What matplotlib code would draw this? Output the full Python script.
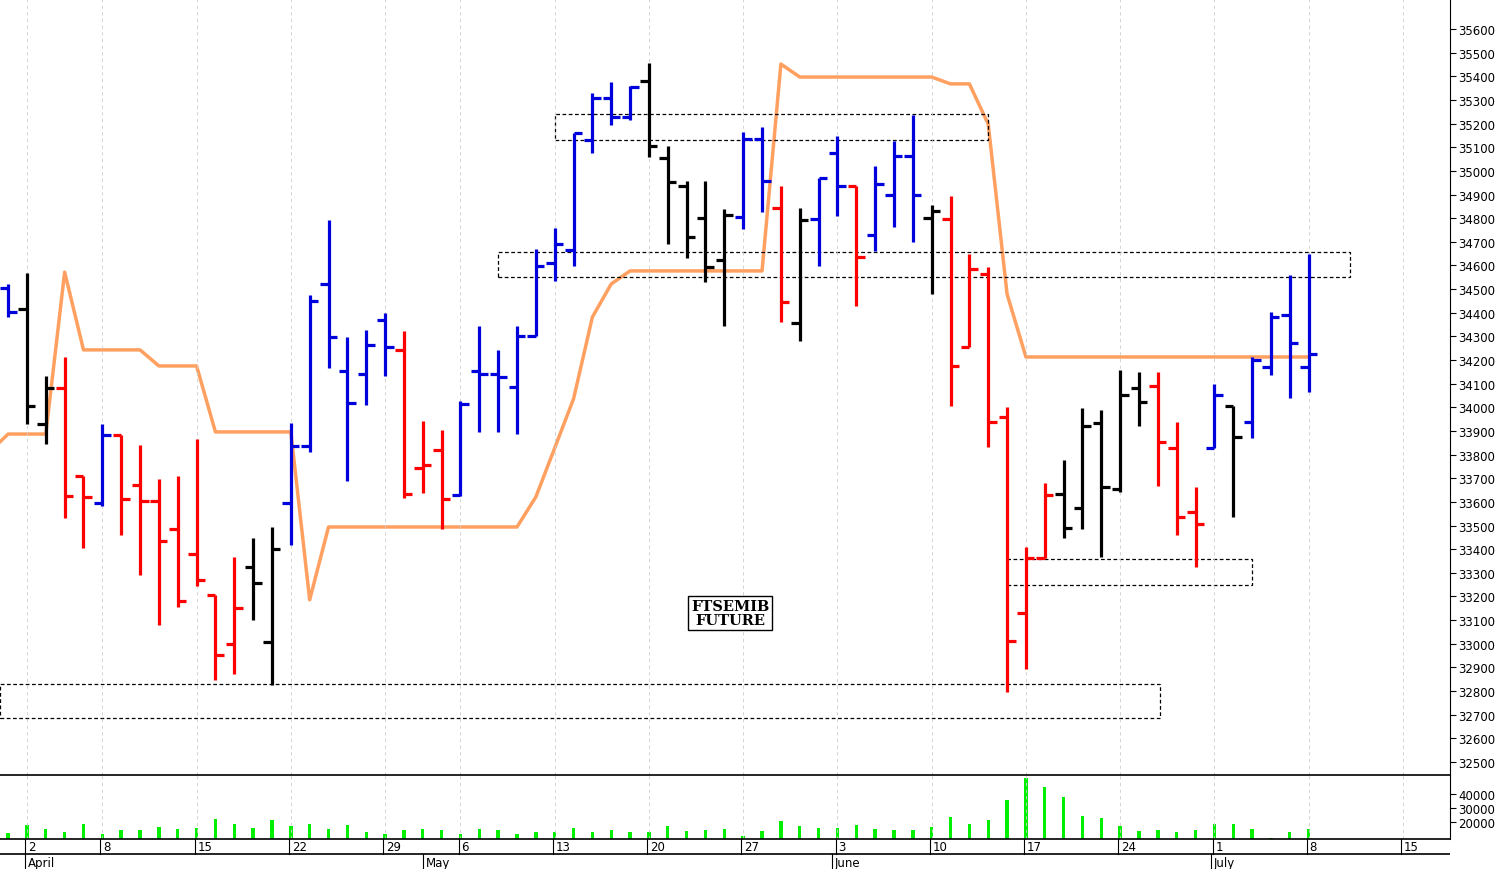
import matplotlib
matplotlib.use("Agg")
import matplotlib.pyplot as plt
from matplotlib.patches import Rectangle

opens = [34505,34416,33930,34082,33710,33596,33883,33672,33604,33486,33380,33207,33000,33325,33008,33596,33837,34522,34154,34141,
         34369,34243,33744,33820,33629,34154,34141,34086,34302,34611,34666,35131,35308,35228,35380,35055,34936,34801,34623,34805,
         35135,34843,34357,34797,35076,34936,34729,34898,35063,34801,34797,34255,34564,33959,33130,33363,33634,33574,33934,33655,
         34082,34090,33828,33557,33828,34006,33938,34171,34391,34171]
highs = [34522,34568,34133,34213,33710,33930,33883,33841,33697,33710,33866,33207,33367,33448,33494,33934,34475,34792,34298,34327,
         34399,34323,33942,33904,34027,34344,34243,34344,34670,34759,35160,35329,35376,35359,35456,35105,34957,34957,34839,35165,
         35186,34936,34843,34970,35148,34936,35021,35127,35236,34856,34894,34649,34594,34002,33410,33680,33777,33997,33989,34158,
         34150,34150,33938,33663,34099,34006,34213,34403,34560,34649]
lows = [34382,33930,33845,33532,33405,33583,33460,33291,33080,33156,33245,32847,32872,33101,32826,33418,33811,34166,33689,34010,
        34133,33617,33638,33486,33625,33896,33896,33887,34302,34534,34598,35076,35194,35215,35059,34691,34632,34530,34344,34754,
        34826,34361,34281,34598,34809,34429,34661,34763,34699,34479,34006,34255,33832,32796,32894,33363,33448,33486,33367,33642,
        33921,33668,33460,33325,33828,33536,33871,34137,34040,34065]
closes = [34403,34006,34082,33625,33621,33883,33613,33604,33435,33181,33270,32953,33152,33257,33401,33837,34450,34298,34017,34264,
          34255,33634,33756,33613,34014,34141,34128,34302,34598,34691,35160,35308,35228,35355,35105,34953,34720,34594,34814,35135,
          34957,34446,34792,34970,34936,34636,34945,35063,34898,34830,34175,34585,33938,33012,33363,33629,33490,33921,33663,34052,
          34023,33854,33536,33507,34052,33875,34200,34382,34272,34226]
bar_colors = (["b","k","k","r","r","b"] + ["r"]*7 + ["k"]*2 + ["b"]*6 + ["r"]*3 + ["b"]*10 + ["k"]*5 + ["b"]*2 + ["r","k","b","b","r","b","b","b","k"]
              + ["r"]*6 + ["k"]*5 + ["r"]*3 + ["b","k"] + ["b"]*4)
stop_line = [33887,33887,33887,34572,34243,34243,34243,34243,34175,34175,34175,33896,33896,33896,33896,33896,33186,33494,33494,33494,
             33494,33494,33494,33494,33494,33494,33494,33494,33621,33828,34036,34382,34522,34577,34577,34577,34577,34577,34577,34577,
             34577,35452,35397,35397,35397,35397,35397,35397,35397,35397,35368,35368,35198,34479,34213,34213,34213,34213,34213,34213,
             34213,34213,34213,34213,34213,34213,34213,34213,34213,34213]
volume = [11900,17300,14800,12800,18000,11100,14100,14300,15800,14800,15500,22200,18000,15500,21500,17000,18000,14800,17300,12300,
          11100,14300,14800,14100,11100,14800,14100,10900,12800,12300,15500,12300,14100,12800,12300,16800,13100,14300,14800,9900,
          13300,20200,16800,15500,15300,17300,14800,14100,14100,16100,23500,18000,21000,35800,51900,45200,38300,24200,23000,16800,
          13300,14100,12300,14100,18000,18000,14800,7900,12300,14800]
# zones: (start index, end index, low, high)
zones = [(29, 52, 35131, 35241), (26, 71.2, 34551, 34657), (53, 66, 33249, 33359), (-0.43, 61.1, 32686, 32830)]
monday_idx = [1,5,10,15,20,24,29,34,39,44,49,54,59,64,69,74]
monday_lbl = ["2","8","15","22","29","6","13","20","27","3","10","17","24","1","8","15"]
month_idx = [1,22.1,43.8,63.9]
month_lbl = ["April","May","June","July"]

cmap = {"b":"#0000dd","r":"#ff0000","k":"#000000"}
W, H = 1499, 870
fig = plt.figure(figsize=(W/100, H/100), dpi=100)
xl = (-0.43, 76.5)
axr = 1450/W
ax = fig.add_axes([0, 1-776/H, axr, 776/H])
axv = fig.add_axes([0, 1-840/H, axr, 64/H])
axd = fig.add_axes([0, 0, axr, 30/H])

for i in range(len(opens)):
    c = cmap[bar_colors[i]]
    ax.plot([i, i], [lows[i], highs[i]], color=c, lw=2.3, solid_capstyle="butt")
    ax.plot([i-0.45, i], [opens[i], opens[i]], color=c, lw=2.3, solid_capstyle="butt")
    ax.plot([i, i+0.45], [closes[i], closes[i]], color=c, lw=2.3, solid_capstyle="butt")
ax.plot([-0.43] + list(range(len(stop_line))), [33854] + stop_line, color="#ffa060", lw=2.5, zorder=1)
for s, e, lo, hi in zones:
    ax.add_patch(Rectangle((s, lo), e-s, hi-lo, fill=False, ls=(0, (3, 2)), lw=0.9, ec="black"))
ax.text(38.3, 33130, "FTSEMIB\nFUTURE", ha="center", va="center", fontsize=10.5, fontweight="bold",
        family="DejaVu Serif", linespacing=0.95, bbox=dict(boxstyle="square,pad=0.2", fc="white", ec="black", lw=1))
ax.set_xlim(*xl)
ax.set_ylim(32445, 35727)
ax.yaxis.tick_right()
ax.set_yticks(range(32500, 35601, 100))
ax.tick_params(axis="y", labelsize=8.5, length=4, direction="out", pad=2)
ax.set_xticks(monday_idx)
ax.tick_params(axis="x", length=0, labelbottom=False)
ax.grid(axis="x", color="#cccccc", ls=(0, (4, 4)), lw=0.6)
for s in ["top", "left", "bottom"]:
    ax.spines[s].set_visible(False)

axv.bar(range(len(volume)), volume, width=0.18, color="#00ee00")
axv.set_xlim(*xl)
axv.set_ylim(7400, 54000)
axv.yaxis.tick_right()
axv.set_yticks([20000, 30000, 40000])
axv.tick_params(axis="y", labelsize=8.5, length=4, pad=2)
axv.set_xticks(monday_idx)
axv.tick_params(axis="x", length=0, labelbottom=False)
axv.grid(axis="x", color="#cccccc", ls=(0, (4, 4)), lw=0.6)
axv.spines["left"].set_visible(False)
axv.spines["top"].set_linewidth(1.2)
axv.spines["bottom"].set_linewidth(1.2)
axv.spines["top"].set_zorder(5)

axd.set_xlim(*xl)
axd.set_ylim(0, 30)
axd.axis("off")
axd.axhline(15, color="black", lw=1.2)
for i, l in zip(monday_idx, monday_lbl):
    axd.plot([i-0.1, i-0.1], [15, 30], color="black", lw=0.8)
    axd.text(i+0.05, 22, l, fontsize=8.5, va="center", ha="left")
for i, l in zip(month_idx, month_lbl):
    axd.plot([i-0.1, i-0.1], [0, 15], color="black", lw=0.8)
    axd.text(i+0.05, 6, l, fontsize=8.5, va="center", ha="left")

fig.savefig("out.png", dpi=100)
